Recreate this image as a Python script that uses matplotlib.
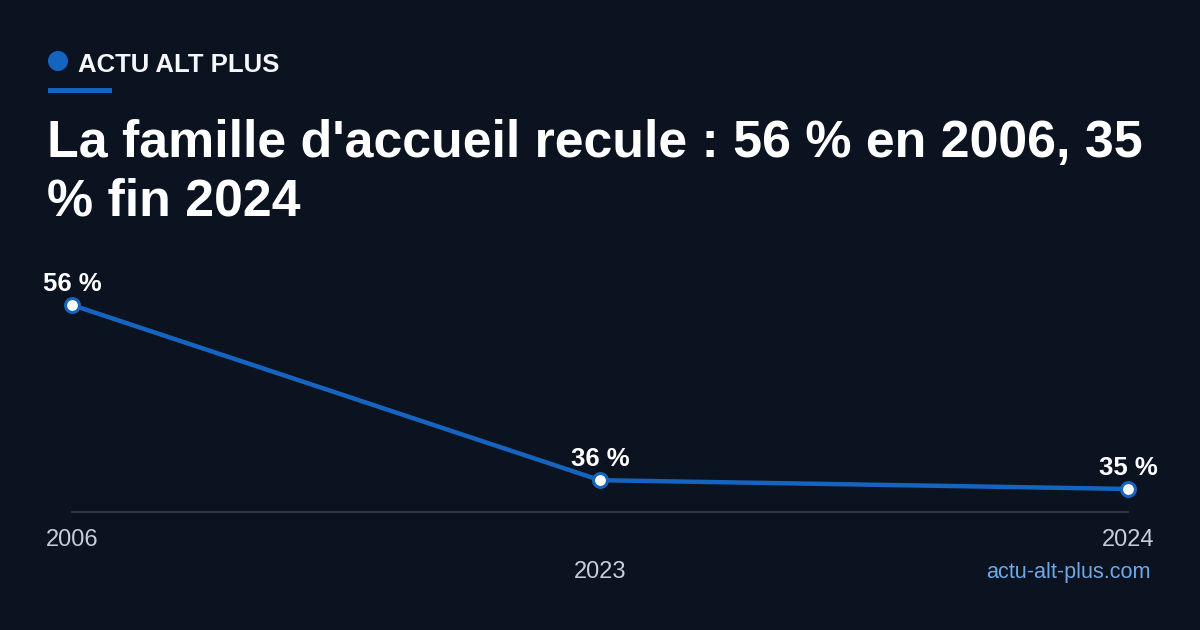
import matplotlib
matplotlib.use("Agg")
import matplotlib.pyplot as plt
from matplotlib.transforms import ScaledTranslation
from matplotlib.patches import Circle, Rectangle

years = ["2006", "2023", "2024"]
values = [56, 36, 35]
value_labels = ["56 %", "36 %", "35 %"]
title = "La famille d'accueil recule : 56 % en 2006, 35\n% fin 2024"
brand = "ACTU ALT PLUS"
source = "actu-alt-plus.com"

BG = "#0b1220"
BLUE = "#1565c0"
plt.rcParams["font.family"] = ["Liberation Sans", "DejaVu Sans"]

W, H = 1200, 630
fig = plt.figure(figsize=(W / 100, H / 100), dpi=100, facecolor=BG)

def fx(px):
    return px / W

def fy(py):
    return 1 - py / H

# header / overlay axes in pixel coordinates
hdr = fig.add_axes([0, 0, 1, 1], facecolor="none")
hdr.set_xlim(0, W)
hdr.set_ylim(H, 0)
hdr.axis("off")
hdr.add_patch(Circle((58, 61), 10, facecolor=BLUE, edgecolor="none"))
hdr.add_patch(Rectangle((48, 88), 64, 5, facecolor=BLUE, edgecolor="none"))
hdr.text(78, 72, brand, fontsize=18.5, fontweight="bold", color="#f5f7fa",
         ha="left", va="baseline")
hdr.text(47, 216, title, fontsize=37.4, fontweight="bold", color="white",
         ha="left", va="baseline", linespacing=1.27)
hdr.text(1151, 578, source, fontsize=15.6, color="#6fa8e6", ha="right", va="baseline")

# chart
ax = fig.add_axes([fx(72), fy(512), fx(1128 - 72), (512 - 305) / H], facecolor="none")
x = list(range(len(years)))
ax.plot(x, values, color=BLUE, lw=3.2, marker="o", markersize=10,
        markerfacecolor="white", markeredgecolor=BLUE, markeredgewidth=2.2,
        clip_on=False, zorder=3, solid_capstyle="round")
for xi, v, lab in zip(x, values, value_labels):
    ax.annotate(lab, (xi, v), xytext=(0, 6.5), textcoords="offset points",
                ha="center", va="bottom", fontsize=18.5, fontweight="bold",
                color="white", zorder=4)
ax.set_xlim(0, len(years) - 1)
ax.set_ylim(32.37, 56)
for s in ["top", "right", "left"]:
    ax.spines[s].set_visible(False)
ax.spines["bottom"].set_color("#2b3545")
ax.spines["bottom"].set_linewidth(1.5)
ax.set_yticks([])
ax.set_xticks(x)
ax.set_xticklabels(years)
ax.tick_params(axis="x", length=0, pad=12.5, labelsize=17, labelcolor="#c5cedb")
labels = ax.get_xticklabels()
labels[1].set_transform(labels[1].get_transform() +
                        ScaledTranslation(0, -23 / 72, fig.dpi_scale_trans))

fig.savefig("out.png", dpi=100, facecolor=BG)
